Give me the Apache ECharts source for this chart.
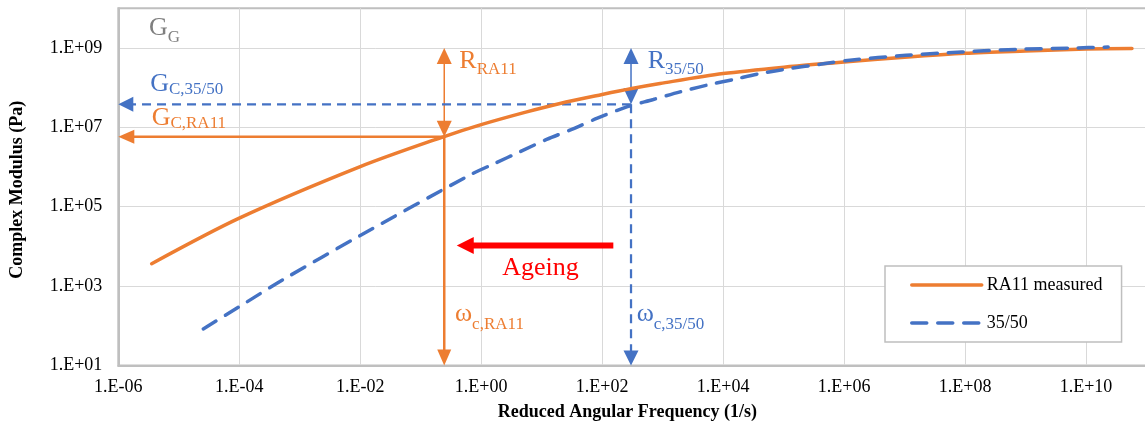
<!DOCTYPE html>
<html>
<head>
<meta charset="utf-8">
<script src="https://cdn.jsdelivr.net/npm/echarts@6/dist/echarts.min.js"></script>
<style>
html,body{margin:0;padding:0;background:#fff;}
#chart{width:1145px;height:433px;}
</style>
</head>
<body>
<div id="chart"></div>
<script>
// ---------- data ----------
const seriesNames = ['RA11 measured', '35/50'];
const xTickLabels = ['1.E-06','1.E-04','1.E-02','1.E+00','1.E+02','1.E+04','1.E+06','1.E+08','1.E+10'];
const yTickLabels = ['1.E+01','1.E+03','1.E+05','1.E+07','1.E+09'];

// RA11 measured master curve
const ra11Freq    = [3.56e-6, 1.0e-4, 1.0e-2, 0.237, 1.0, 5.66, 20.1, 100, 308, 906, 1.0e4, 1.45e5, 1.0e6, 1.0e7, 1.0e8, 1.0e9, 1.0e10, 5.75e10];
const ra11Modulus = [3.66e3, 5.14e4, 1.02e6, 5.77e6, 1.17e7, 2.45e7, 3.99e7, 6.71e7, 9.48e7, 1.27e8, 2.26e8, 3.45e8, 4.43e8, 5.81e8, 7.31e8, 8.36e8, 9.38e8, 9.6e8];

// 35/50 master curve
const b3550Freq    = [2.54e-5, 1.0e-4, 5.28e-4, 1.0e-2, 0.653, 1.69, 4.39, 12.1, 31.4, 81.3, 255, 701, 1.94e3, 5.36e3, 1.48e4, 4.07e4, 1.28e5, 4.0e5, 1.25e6, 1.06e7, 8.81e7, 7.6e8, 6.17e9, 2.32e10];
const b3550Modulus = [83.6, 303, 1.45e3, 1.88e4, 6.30e5, 1.24e6, 2.42e6, 4.97e6, 8.85e6, 1.67e7, 3.27e7, 5.02e7, 7.80e7, 1.15e8, 1.60e8, 2.26e8, 3.02e8, 3.87e8, 4.88e8, 6.52e8, 7.89e8, 9.23e8, 9.93e8, 1.05e9];

// crossover points [RA11, 35/50]
const critFreq    = [0.245, 300];
const critModulus = [5.8e6, 3.8e7];
const glassyModulus = 1e9;
// ageing arrow (from, to) at one modulus level
const ageingFreq = [153, 0.394];
const ageingModulus = 1.05e4;

// annotation labels
const labelMain    = ['G', 'G', 'G', 'R', 'R', 'ω', 'ω', 'Ageing'];
const labelSub     = ['G', 'C,35/50', 'C,RA11', 'RA11', '35/50', 'c,RA11', 'c,35/50', ''];
const labelFreq    = [3.22e-6, 3.36e-6, 3.56e-6, 0.435, 566, 0.369, 372, 9.57];
const labelModulus = [3.2e9, 1.22e8, 1.67e7, 4.6e8, 4.6e8, 191, 191, 2.9e3];

// ---------- styling ----------
const SERIF = '"Liberation Serif", "Times New Roman", serif';
const ORANGE = '#ED7D31', BLUE = '#4472C4', RED = '#FF0000', GREY = '#7F7F7F';
const X_MIN = 1e-6, X_MAX = 1e11, Y_MIN = 10, Y_MAX = 1e10;

const arrowStyles = [
  {color: ORANGE, width: 2.5, headLen: 16, headWidth: 14, both: false},
  {color: ORANGE, width: 1.5, headLen: 16, headWidth: 15, both: true},
  {color: BLUE, width: 2.25, dash: [9, 6], headLen: 15, headWidth: 15, both: false},
  {color: BLUE, width: 1.5, headLen: 16, headWidth: 15, both: true},
  {color: RED, width: 6, headLen: 17, headWidth: 17, both: false}
];
const labelStyles = [
  {color: GREY, size: 26, sub: 10},
  {color: BLUE, size: 26, sub: 5},
  {color: ORANGE, size: 26, sub: 5},
  {color: ORANGE, size: 26, sub: 8},
  {color: BLUE, size: 26, sub: 8},
  {color: ORANGE, size: 26, sub: 10},
  {color: BLUE, size: 26, sub: 10},
  {color: RED, size: 26, sub: 0, align: 'center'}
];

function expLabel(v) {
  const e = Math.round(Math.log10(v));
  return '1.E' + (e < 0 ? '-' : '+') + String(Math.abs(e)).padStart(2, '0');
}

const arrowData = [
  [critFreq[0], critModulus[0], X_MIN, critModulus[0], 0],
  [critFreq[0], critModulus[0], critFreq[0], Y_MIN, 0],
  [critFreq[0], glassyModulus, critFreq[0], critModulus[0], 1],
  [critFreq[1], critModulus[1], X_MIN, critModulus[1], 2],
  [critFreq[1], critModulus[1], critFreq[1], Y_MIN, 2],
  [critFreq[1], glassyModulus, critFreq[1], critModulus[1], 3],
  [ageingFreq[0], ageingModulus, ageingFreq[1], ageingModulus, 4]
];
const labelData = labelFreq.map((f, i) => [f, labelModulus[i], i]);

function renderArrow(params, api) {
  const s = arrowStyles[api.value(4)];
  const a = api.coord([api.value(0), api.value(1)]);
  const b = api.coord([api.value(2), api.value(3)]);
  const dx = b[0] - a[0], dy = b[1] - a[1];
  const len = Math.hypot(dx, dy) || 1;
  const ux = dx / len, uy = dy / len, px = -uy, py = ux;
  const head = (tip, d) => {
    const bx = tip[0] - d[0] * s.headLen, by = tip[1] - d[1] * s.headLen;
    return {
      type: 'polygon',
      shape: {points: [[tip[0], tip[1]], [bx + px * s.headWidth / 2, by + py * s.headWidth / 2], [bx - px * s.headWidth / 2, by - py * s.headWidth / 2]]},
      style: {fill: s.color}
    };
  };
  const cut = s.headLen - 1;
  const start = s.both ? [a[0] + ux * cut, a[1] + uy * cut] : a;
  const end = [b[0] - ux * cut, b[1] - uy * cut];
  const lineStyle = {stroke: s.color, lineWidth: s.width, fill: null};
  if (s.dash) lineStyle.lineDash = s.dash;
  const children = [{type: 'line', shape: {x1: start[0], y1: start[1], x2: end[0], y2: end[1]}, style: lineStyle}];
  children.push(head(b, [ux, uy]));
  if (s.both) children.push(head(a, [-ux, -uy]));
  return {type: 'group', children: children};
}

function renderLabel(params, api) {
  const i = api.value(2);
  const p = api.coord([api.value(0), api.value(1)]);
  const st = labelStyles[i];
  const text = labelSub[i] ? '{m|' + labelMain[i] + '}{s|' + labelSub[i] + '}' : '{m|' + labelMain[i] + '}';
  return {
    type: 'text', x: p[0], y: p[1],
    style: {
      text: text,
      fill: st.color,
      align: st.align || 'left',
      verticalAlign: 'middle',
      rich: {
        m: {fontSize: st.size, fontFamily: SERIF, fill: st.color},
        s: {fontSize: 17, fontFamily: SERIF, fill: st.color, padding: [2 * st.sub, 0, 0, 0]}
      }
    }
  };
}

const chart = echarts.init(document.getElementById('chart'));
chart.setOption({
  animation: false,
  backgroundColor: '#fff',
  grid: {
    left: 118.3, right: -1.5, top: 8.2, bottom: 67.5,
    outerBoundsMode: 'none', containLabel: false,
    show: true, borderColor: '#BFBFBF', borderWidth: 2, backgroundColor: 'transparent'
  },
  legend: {
    data: seriesNames, orient: 'vertical', left: 885, top: 266,
    padding: [10, 19, 10, 25], itemWidth: 70, itemHeight: 18, itemGap: 20,
    backgroundColor: '#fff', borderColor: '#BFBFBF', borderWidth: 1.5, borderRadius: 0,
    textStyle: {fontFamily: SERIF, fontSize: 18, color: '#000'},
    lineStyle: {width: 3.5},
    itemStyle: {color: 'rgba(0,0,0,0)', borderColor: 'rgba(0,0,0,0)', borderWidth: 0, opacity: 0},
    selectedMode: false
  },
  xAxis: {
    type: 'log', logBase: 100, min: X_MIN, max: X_MAX,
    name: 'Reduced Angular Frequency (1/s)', nameLocation: 'middle', nameGap: 38,
    nameTextStyle: {fontFamily: SERIF, fontSize: 18, fontWeight: 'bold', color: '#000', padding: [0, 10, 0, 0]},
    axisLine: {show: true, lineStyle: {color: '#BFBFBF', width: 2}},
    axisTick: {show: false},
    minorTick: {show: false},
    axisLabel: {
      fontFamily: SERIF, fontSize: 18, color: '#000', margin: 13,
      showMinLabel: true, showMaxLabel: true, hideOverlap: false,
      formatter: v => { const s = expLabel(v); return xTickLabels.includes(s) ? s : ''; }
    },
    splitLine: {show: true, lineStyle: {color: '#D9D9D9', width: 1}}
  },
  yAxis: {
    type: 'log', logBase: 10, min: Y_MIN, max: Y_MAX,
    name: 'Complex Modulus (Pa)', nameLocation: 'middle', nameGap: 92,
    nameTextStyle: {fontFamily: SERIF, fontSize: 18, fontWeight: 'bold', color: '#000', padding: [0, 6, 0, 0]},
    axisLine: {show: true, lineStyle: {color: '#BFBFBF', width: 2}},
    axisTick: {show: false},
    minorTick: {show: false},
    axisLabel: {
      fontFamily: SERIF, fontSize: 18, color: '#000', margin: 16,
      showMinLabel: true, showMaxLabel: true, hideOverlap: false,
      formatter: v => { const s = expLabel(v); return yTickLabels.includes(s) ? s : ''; }
    },
    splitLine: {show: true, lineStyle: {color: ['#D9D9D9', 'rgba(0,0,0,0)'], width: 1}}
  },
  series: [
    {
      type: 'custom', name: 'arrows', z: 1, silent: true,
      renderItem: renderArrow, data: arrowData, clip: false
    },
    {
      type: 'line', name: seriesNames[0], z: 2, silent: true,
      data: ra11Freq.map((f, i) => [f, ra11Modulus[i]]),
      showSymbol: false, symbol: 'none', smooth: 0.3,
      lineStyle: {color: ORANGE, width: 3.5, cap: 'round'},
      itemStyle: {color: ORANGE}
    },
    {
      type: 'line', name: seriesNames[1], z: 2, silent: true,
      data: b3550Freq.map((f, i) => [f, b3550Modulus[i]]),
      showSymbol: false, symbol: 'none', smooth: 0.3,
      lineStyle: {color: BLUE, width: 3.5, type: [15, 11], cap: 'round'},
      itemStyle: {color: BLUE}
    },
    {
      type: 'custom', name: 'labels', z: 3, silent: true,
      renderItem: renderLabel, data: labelData, clip: false
    }
  ]
});
</script>
</body>
</html>
